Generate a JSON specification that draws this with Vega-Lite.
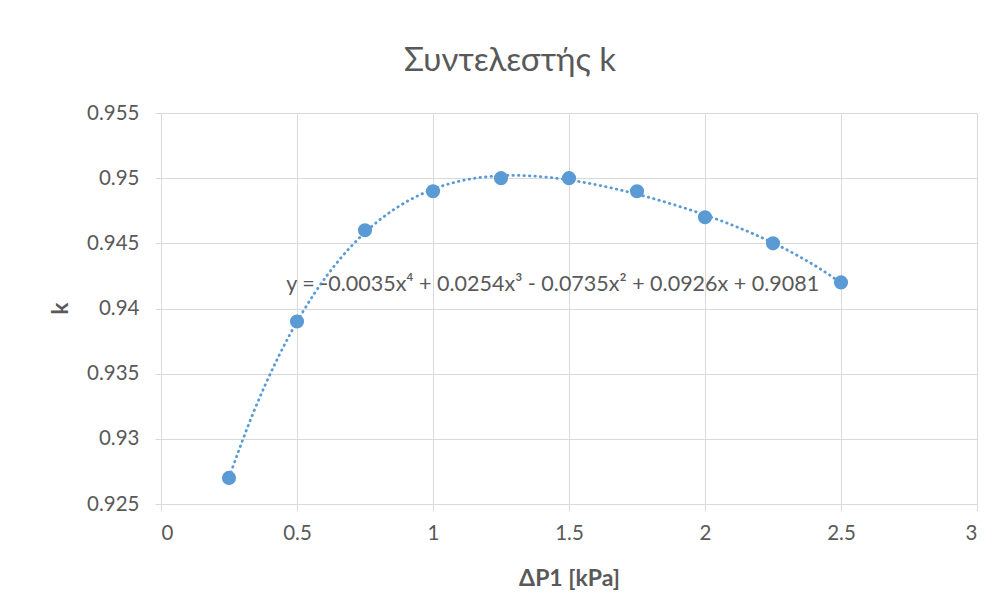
{
  "$schema": "https://vega.github.io/schema/vega-lite/v6.json",
  "width": 816,
  "height": 391,
  "autosize": "none",
  "padding": {"left": 161, "top": 113, "right": 23, "bottom": 111},
  "background": "white",
  "config": {
    "font": "Lato",
    "view": {"stroke": null},
    "axis": {
      "gridColor": "#d9d9d9",
      "domainColor": "#d9d9d9",
      "tickColor": "#d9d9d9",
      "labelColor": "#595959",
      "titleColor": "#595959",
      "labelFont": "Lato",
      "titleFont": "Lato",
      "labelFontSize": 20.5,
      "titleFontSize": 23,
      "titleFontWeight": "bold"
    }
  },
  "title": {
    "text": "Συντελεστής k",
    "fontSize": 33,
    "font": "Lato",
    "fontWeight": "normal",
    "color": "#595959",
    "anchor": "middle",
    "frame": "group",
    "dx": -59,
    "offset": 25
  },
  "datasets": {
    "points": [
      {"dp": 0.25, "k": 0.927},
      {"dp": 0.5, "k": 0.939},
      {"dp": 0.75, "k": 0.946},
      {"dp": 1.0, "k": 0.949},
      {"dp": 1.25, "k": 0.95},
      {"dp": 1.5, "k": 0.95},
      {"dp": 1.75, "k": 0.949},
      {"dp": 2.0, "k": 0.947},
      {"dp": 2.25, "k": 0.945},
      {"dp": 2.5, "k": 0.942}
    ],
    "eq": [
      {"dp": 1.44, "k": 0.9418, "label": "y = -0.0035x⁴ + 0.0254x³ - 0.0735x² + 0.0926x + 0.9081"}
    ]
  },
  "layer": [
    {
      "data": {"name": "points"},
      "transform": [
        {"regression": "k", "on": "dp", "method": "poly", "order": 4, "extent": [0.25, 2.5]}
      ],
      "mark": {"type": "line", "color": "#5B9BD5", "strokeWidth": 2.8, "strokeDash": [0.5, 5], "strokeCap": "round", "interpolate": "monotone"},
      "encoding": {
        "x": {
          "field": "dp", "type": "quantitative",
          "scale": {"domain": [0, 3], "nice": false, "zero": false},
          "axis": {"title": "ΔP1 [kPa]", "values": [0, 0.5, 1, 1.5, 2, 2.5, 3], "format": "~g", "tickSize": 7, "labelPadding": 12, "titleY": 74, "titleBaseline": "middle", "domain": true}
        },
        "y": {
          "field": "k", "type": "quantitative",
          "scale": {"domain": [0.925, 0.955], "nice": false, "zero": false},
          "axis": {"title": "k", "values": [0.925, 0.93, 0.935, 0.94, 0.945, 0.95, 0.955], "format": ".3~f", "tickSize": 6, "labelPadding": 16, "titleX": -101, "titleY": 195, "titleAngle": -90, "titleAlign": "center", "titleBaseline": "middle", "domain": false}
        }
      }
    },
    {
      "data": {"name": "points"},
      "mark": {"type": "circle", "color": "#5B9BD5", "opacity": 1, "size": 200},
      "encoding": {
        "x": {"field": "dp", "type": "quantitative"},
        "y": {"field": "k", "type": "quantitative"}
      }
    },
    {
      "data": {"name": "eq"},
      "mark": {"type": "text", "color": "#595959", "fontSize": 21.5, "font": "Lato", "align": "center", "baseline": "middle"},
      "encoding": {
        "x": {"field": "dp", "type": "quantitative"},
        "y": {"field": "k", "type": "quantitative"},
        "text": {"field": "label"}
      }
    }
  ]
}
